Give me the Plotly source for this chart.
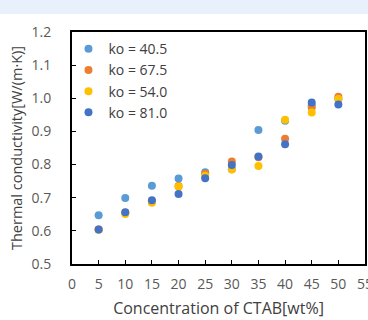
import plotly.graph_objects as go

conc = [5, 10, 15, 20, 25, 30, 35, 40, 45, 50]
ko_405 = [0.647, 0.699, 0.736, 0.758, 0.777, 0.786, 0.904, 0.932, 0.978, 0.998]
ko_675 = [0.604, 0.655, 0.689, 0.735, 0.772, 0.809, 0.822, 0.878, 0.972, 1.005]
ko_540 = [0.603, 0.651, 0.685, 0.733, 0.766, 0.785, 0.796, 0.935, 0.957, 0.998]
ko_810 = [0.604, 0.656, 0.692, 0.711, 0.759, 0.799, 0.824, 0.861, 0.987, 0.981]

series = [
    ("ko = 40.5", ko_405, "#5B9BD5"),
    ("ko = 67.5", ko_675, "#ED7D31"),
    ("ko = 54.0", ko_540, "#FFC000"),
    ("ko = 81.0", ko_810, "#4472C4"),
]

fig = go.Figure()
for name, vals, col in series:
    fig.add_trace(go.Scatter(x=conc, y=vals, mode="markers", name=name,
                             marker=dict(color=col, size=8, line=dict(width=0))))

font = "Open Sans, Liberation Sans, sans-serif"
fig.update_layout(
    width=368, height=320,
    margin=dict(l=72, r=3, t=32, b=56),
    paper_bgcolor="white", plot_bgcolor="white",
    font=dict(family=font, color="#404040"),
    showlegend=True,
    legend=dict(x=-0.012, y=0.995, xanchor="left", yanchor="top",
                bgcolor="rgba(0,0,0,0)", font=dict(size=14, color="#404040"),
                itemwidth=30, tracegroupgap=0),
    shapes=[dict(type="rect", xref="paper", yref="paper", x0=-0.5, x1=1.5,
                 y0=(232 + 32 - 14) / 232, y1=(232 + 32 + 5) / 232,
                 fillcolor="#E8F0FB", line=dict(width=0), layer="above")],
)
fig.update_xaxes(range=[0, 55], tickvals=list(range(0, 56, 5)),
                 automargin=False, ticklabeloverflow="allow",
                 showgrid=False, zeroline=False,
                 showline=True, linecolor="black", linewidth=2, mirror=True,
                 ticks="inside", ticklen=4, tickcolor="black", tickwidth=1,
                 tickfont=dict(size=14, color="#595959"),
                 ticklabelstandoff=6,
                 title=dict(text="Concentration of CTAB[wt%]", font=dict(size=16, color="#404040"), standoff=11))
fig.update_yaxes(range=[0.5, 1.2], tickvals=[0.5, 0.6, 0.7, 0.8, 0.9, 1.0, 1.1, 1.2],
                 ticktext=["0.5", "0.6", "0.7", "0.8", "0.9", "1.0", "1.1", "1.2"],
                 automargin=False,
                 showgrid=False, zeroline=False,
                 showline=True, linecolor="black", linewidth=2, mirror=True,
                 ticks="inside", ticklen=4, tickcolor="black", tickwidth=1,
                 tickfont=dict(size=14, color="#595959"),
                 ticklabelstandoff=16,
                 title=dict(text="Thermal conductivity[W/(m·K)]", font=dict(size=14.5, color="#404040"), standoff=5))

fig.write_html("out.html", config={"displayModeBar": False},
               post_script="document.body.style.margin='0';document.body.style.overflow='hidden';")
